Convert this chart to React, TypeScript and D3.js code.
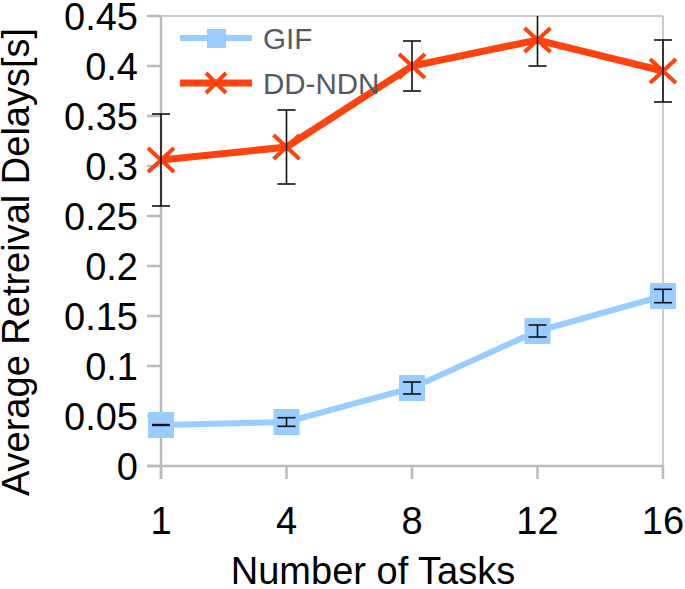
import { useEffect, useRef } from 'react'
import * as d3 from 'd3'

const tasks = ['1', '4', '8', '12', '16']
const gifMean = [0.041, 0.044, 0.078, 0.135, 0.17]
const gifErr = [0.0004, 0.0043, 0.006, 0.006, 0.0067]
const ddMean = [0.306, 0.319, 0.4, 0.426, 0.395]
const ddErr = [0.046, 0.037, 0.025, 0.026, 0.031]
const yTicks = [0, 0.05, 0.1, 0.15, 0.2, 0.25, 0.3, 0.35, 0.4, 0.45]

const GIF_COLOR = '#99ccff'
const DD_COLOR = '#ff420e'
const AXIS_COLOR = '#bbbbbb'
const FONT = '"Liberation Sans", Arial, sans-serif'

export default function App() {
  const svgRef = useRef<SVGSVGElement>(null)

  useEffect(() => {
    if (!svgRef.current) return
    const svg = d3.select(svgRef.current)
    svg.selectAll('*').remove()

    const width = 685
    const height = 589
    const margin = { top: 16, right: 22, bottom: 123, left: 161 }
    const innerW = width - margin.left - margin.right
    const innerH = height - margin.top - margin.bottom

    svg.attr('width', width).attr('height', height)

    const x = d3.scalePoint<string>().domain(tasks).range([0, innerW])
    const y = d3.scaleLinear().domain([0, 0.45]).range([innerH, 0])

    svg.append('defs').append('clipPath').attr('id', 'plot-clip')
      .append('rect').attr('x', -30).attr('y', 0).attr('width', innerW + 60).attr('height', innerH + 10)

    const g = svg.append('g').attr('transform', `translate(${margin.left},${margin.top})`)

    // frame (top / right)
    g.append('line').attr('x1', 0).attr('x2', innerW).attr('y1', 0).attr('y2', 0)
      .attr('stroke', AXIS_COLOR).attr('stroke-width', 1.5)
    g.append('line').attr('x1', innerW).attr('x2', innerW).attr('y1', 0).attr('y2', innerH)
      .attr('stroke', AXIS_COLOR).attr('stroke-width', 1.5)

    // y axis
    g.append('line').attr('x1', 0).attr('x2', 0).attr('y1', 0).attr('y2', innerH + 13)
      .attr('stroke', AXIS_COLOR).attr('stroke-width', 2.5)
    yTicks.forEach(t => {
      g.append('line').attr('x1', -14).attr('x2', 0).attr('y1', y(t)).attr('y2', y(t))
        .attr('stroke', AXIS_COLOR).attr('stroke-width', 2.5)
      g.append('text').attr('x', -23).attr('y', y(t)).attr('dy', '0.36em')
        .attr('text-anchor', 'end').attr('font-family', FONT).attr('font-size', 38)
        .attr('fill', '#000').text(String(t))
    })

    // x axis
    g.append('line').attr('x1', -14).attr('x2', innerW).attr('y1', innerH).attr('y2', innerH)
      .attr('stroke', AXIS_COLOR).attr('stroke-width', 2.5)
    tasks.forEach(t => {
      g.append('line').attr('x1', x(t)!).attr('x2', x(t)!).attr('y1', innerH).attr('y2', innerH + 13)
        .attr('stroke', AXIS_COLOR).attr('stroke-width', 2.5)
      g.append('text').attr('x', x(t)!).attr('y', innerH + 68)
        .attr('text-anchor', 'middle').attr('font-family', FONT).attr('font-size', 38)
        .attr('fill', '#000').text(t)
    })

    // axis titles
    svg.append('text').attr('transform', `translate(29,262) rotate(-90)`)
      .attr('text-anchor', 'middle').attr('font-family', FONT).attr('font-size', 38)
      .attr('fill', '#000').text('Average Retreival Delays[s]')
    svg.append('text').attr('x', 373).attr('y', 584)
      .attr('text-anchor', 'middle').attr('font-family', FONT).attr('font-size', 38)
      .attr('fill', '#000').text('Number of Tasks')

    const plot = g.append('g').attr('clip-path', 'url(#plot-clip)')

    const line = d3.line<number>().x((_d, i) => x(tasks[i])!).y(d => y(d))

    // GIF series
    plot.append('path').datum(gifMean).attr('d', line).attr('fill', 'none')
      .attr('stroke', GIF_COLOR).attr('stroke-width', 6)
    gifMean.forEach((v, i) => {
      const cx = x(tasks[i])!
      plot.append('rect').attr('x', cx - 13).attr('y', y(v) - 13).attr('width', 26).attr('height', 26)
        .attr('fill', GIF_COLOR)
    })

    // DD-NDN series
    plot.append('path').datum(ddMean).attr('d', line).attr('fill', 'none')
      .attr('stroke', DD_COLOR).attr('stroke-width', 7)
    ddMean.forEach((v, i) => {
      const cx = x(tasks[i])!
      const cy = y(v)
      plot.append('path')
        .attr('d', `M${cx - 13},${cy - 12}L${cx + 13},${cy + 12}M${cx - 13},${cy + 12}L${cx + 13},${cy - 12}`)
        .attr('stroke', DD_COLOR).attr('stroke-width', 4).attr('fill', 'none')
    })

    // error bars
    const errorBars = (means: number[], errs: number[]) => {
      means.forEach((v, i) => {
        const cx = x(tasks[i])!
        const top = y(v + errs[i])
        const bot = y(v - errs[i])
        plot.append('line').attr('x1', cx).attr('x2', cx).attr('y1', top).attr('y2', bot)
          .attr('stroke', '#111').attr('stroke-width', 1.6)
        ;[top, bot].forEach(yy => {
          plot.append('line').attr('x1', cx - 9).attr('x2', cx + 9).attr('y1', yy).attr('y2', yy)
            .attr('stroke', '#111').attr('stroke-width', 1.6)
        })
      })
    }
    errorBars(gifMean, gifErr)
    errorBars(ddMean, ddErr)

    // legend
    const lg = svg.append('g')
    lg.append('line').attr('x1', 180).attr('x2', 252).attr('y1', 38).attr('y2', 38)
      .attr('stroke', GIF_COLOR).attr('stroke-width', 6)
    lg.append('rect').attr('x', 207).attr('y', 29).attr('width', 19).attr('height', 19).attr('fill', GIF_COLOR)
    lg.append('text').attr('x', 263).attr('y', 49).attr('font-family', FONT).attr('font-size', 29.5)
      .attr('fill', '#555a62').text('GIF')
    lg.append('line').attr('x1', 180).attr('x2', 252).attr('y1', 83).attr('y2', 83)
      .attr('stroke', DD_COLOR).attr('stroke-width', 7)
    lg.append('path').attr('d', 'M206,73L226,93M206,93L226,73')
      .attr('stroke', DD_COLOR).attr('stroke-width', 4).attr('fill', 'none')
    lg.append('text').attr('x', 263).attr('y', 94).attr('font-family', FONT).attr('font-size', 29.5)
      .attr('fill', '#555a62').text('DD-NDN')
  }, [])

  return (
    <div style={{ position: 'absolute', left: 0, top: 0, background: '#fff' }}>
      <svg ref={svgRef} />
    </div>
  )
}
